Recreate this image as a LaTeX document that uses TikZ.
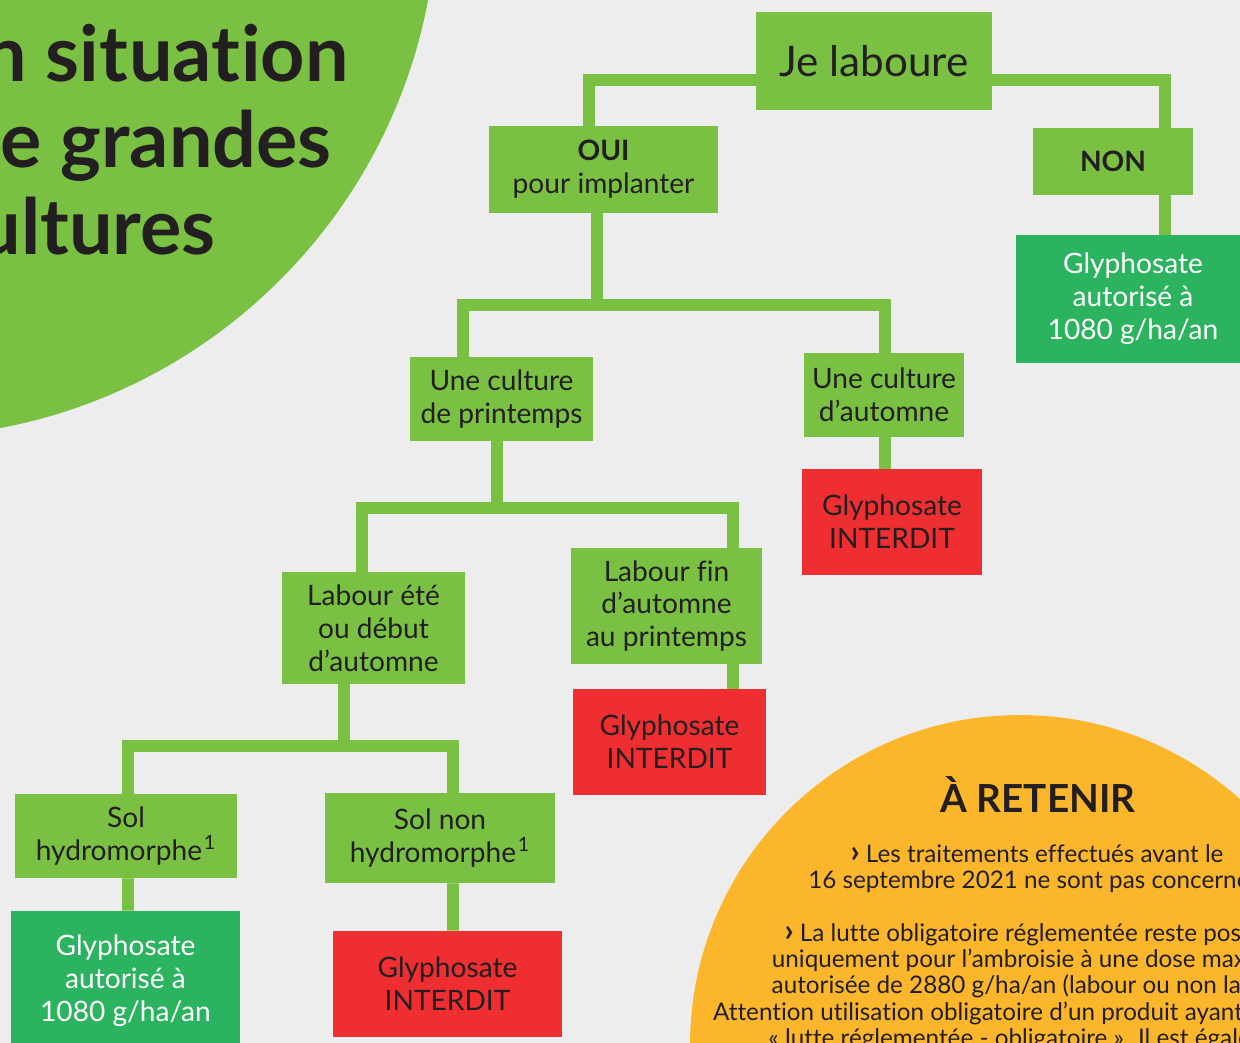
\documentclass[tikz,border=0pt]{standalone}
\usepackage{fontspec}
\setmainfont{Lato}[Ligatures={NoCommon,NoContextual}]
\usetikzlibrary{calc}
\definecolor{bgray}{HTML}{ECEDEC}
\definecolor{lgreen}{HTML}{7AC143}
\definecolor{dgreen}{HTML}{2BB35F}
\definecolor{nored}{HTML}{EE2E31}
\definecolor{orng}{HTML}{FBB62C}
\definecolor{ink}{HTML}{231F20}
\newcommand{\chev}{{\fontsize{18}{15}\selectfont\bfseries ›}}
\tikzset{
  box/.style={fill=lgreen, text=ink, align=center, inner sep=0pt,
    font=\fontsize{16}{18.7}\selectfont},
  okbox/.style={box, fill=dgreen, text=white},
  nobox/.style={box, fill=nored},
  stem/.style={draw=lgreen, line width=6.8pt},
}
\begin{document}
\begin{tikzpicture}[x=0.02cm,y=-0.02cm]
  \useasboundingbox (0,0) rectangle (1240,1043);
  \clip (0,0) rectangle (1240,1043);
  \fill[bgray] (0,0) rectangle (1240,1043);
  \fill[lgreen] (-100,-100) circle [radius=10.75cm];
  \fill[orng] (1020,1045) circle [radius=6.6cm];

  \node[anchor=base east, text=ink, font=\fontsize{44}{50}\selectfont\bfseries] (t1) at (355,82) {En sit\kern0.5pt uat\kern0.5pt ion};
  \node[anchor=base east, text=ink, font=\fontsize{44}{50}\selectfont\bfseries] (t2) at (338,168) {de grandes};
  \node[anchor=base east, text=ink, font=\fontsize{44}{50}\selectfont\bfseries] (t3) at (222,255) {cultures};

  \node[box, minimum width=4.72cm, minimum height=1.96cm, font=\fontsize{24}{28}\selectfont] (lab) at (874,61) {Je laboure};
  \node[box, minimum width=4.58cm, minimum height=1.74cm] (oui) at (603.5,169.5) {\textbf{OUI}\\pour implanter};
  \node[box, minimum width=3.20cm, minimum height=1.34cm] (non) at (1113,161.5) {\textbf{NON}};
  \node[okbox, minimum width=4.68cm, minimum height=2.56cm] (okA) at (1133,299) {Glyphosate\\autorisé à\\1080 g/ha/an};
  \node[box, minimum width=3.66cm, minimum height=1.68cm] (print) at (501.5,399) {Une culture\\de printemps};
  \node[box, minimum width=3.20cm, minimum height=1.68cm] (auto) at (884,395) {Une culture\\d’automne};
  \node[nobox, minimum width=3.60cm, minimum height=2.12cm] (noA) at (892,522) {Glyphosate\\INTERDIT};
  \node[box, minimum width=3.66cm, minimum height=2.24cm] (labEte) at (373.5,628) {Labour été\\ou début\\d’automne};
  \node[box, minimum width=3.82cm, minimum height=2.32cm] (labFin) at (666.5,606) {Labour fin\\d’automne\\au printemps};
  \node[nobox, minimum width=3.86cm, minimum height=2.12cm] (noB) at (669.5,742) {Glyphosate\\INTERDIT};
  \node[box, minimum width=4.44cm, minimum height=1.68cm] (solH) at (126,836) {Sol\\hydromorphe\kern1pt\textsuperscript{1}};
  \node[box, minimum width=4.60cm, minimum height=1.80cm] (solN) at (440,838) {Sol non\\hydromorphe\kern1pt\textsuperscript{1}};
  \node[okbox, minimum width=4.58cm, minimum height=2.80cm] (okB) at (125.5,981) {Glyphosate\\autorisé à\\1080 g/ha/an};
  \node[nobox, minimum width=4.58cm, minimum height=2.12cm] (noC) at (447.5,984) {Glyphosate\\INTERDIT};

  \draw[stem] ($(lab.west)+(0,19)$) -| ($(oui.north)+(-14.5,0)$);
  \draw[stem] ($(lab.east)+(0,19)$) -| ($(non.north)+(52,0)$);
  \draw[stem] ($(non.south)+(52,0)$) -- ($(okA.north)+(32,0)$);
  \draw[stem] ($(oui.south)+(-6.5,0)$) -- ++(0,92);
  \draw[stem] ($(print.north)+(-38.5,0)$) |- ($(auto.north)+(1,-48)$) -- ($(auto.north)+(1,0)$);
  \draw[stem] ($(auto.south)+(1,0)$) -- ($(noA.north)+(-7,0)$);
  \draw[stem] ($(print.south)+(-4.5,0)$) -- ++(0,67);
  \draw[stem] ($(labEte.north)+(-11.5,0)$) |- ($(labFin.north)+(66.5,-40)$) -- ($(labFin.north)+(66.5,0)$);
  \draw[stem] ($(labFin.south)+(66.5,0)$) -- ($(noB.north)+(63.5,0)$);
  \draw[stem] ($(labEte.south)+(-29.5,0)$) -- ++(0,62);
  \draw[stem] ($(solH.north)+(2,0)$) |- ($(solN.north)+(13,-47)$) -- ($(solN.north)+(13,0)$);
  \draw[stem] ($(solH.south)+(2,0)$) -- ($(okB.north)+(2.5,0)$);
  \draw[stem] ($(solN.south)+(13,0)$) -- ($(noC.north)+(5.5,0)$);

  \node[text=ink, font=\fontsize{22}{26}\selectfont\bfseries] (ret) at (1038,795) {À RETENIR};
  \node[anchor=north, text=ink, align=center, font=\fontsize{13.8}{15}\selectfont] (memo) at (1037,838)
    {\chev\ Les traitements effectués avant le\\
     16 septembre 2021 ne sont pas concernés.\\[15pt]
     \chev\ La lutte obligatoire réglementée reste possible\\
     uniquement pour l’ambroisie à une dose maximale\\
     autorisée de 2880 g/ha/an (labour ou non labour).\\
     Attention utilisation obligatoire d’un produit ayant la mention\\
     « lutte réglementée - obligatoire ». Il est également};
\end{tikzpicture}
\end{document}
